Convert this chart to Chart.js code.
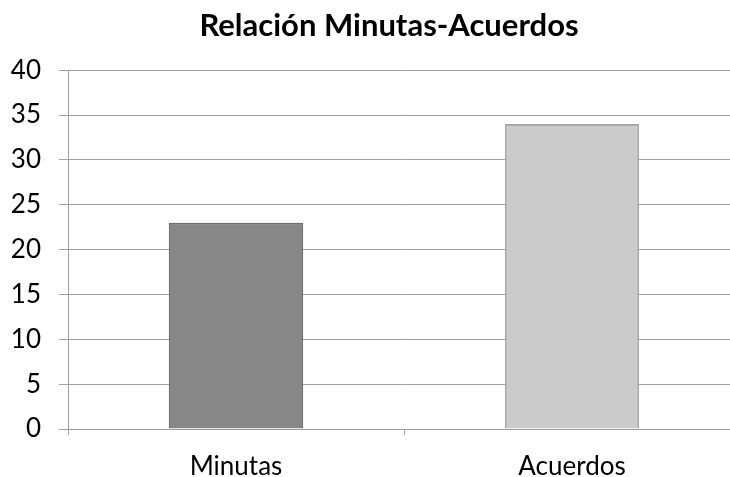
<!DOCTYPE html>
<html><head><meta charset="utf-8">
<script src="https://cdn.jsdelivr.net/npm/chart.js@4"></script>
<style>html,body{margin:0;padding:0;overflow:hidden;background:#fff}#wrap{width:745px;height:477px;position:relative}</style>
</head><body><div id="wrap"><canvas id="c"></canvas></div>
<script>
const categories = ["Minutas", "Acuerdos"];
const values = [23, 34];
const barColors = ["#878787", "#cbcbcb"];
const borderColors = ["#6f6f6f", "#a9a9a9"];
const yTicks = [0, 5, 10, 15, 20, 25, 30, 35, 40];
const TITLE = 'Relación Minutas-Acuerdos';
const FONT = "Lato, 'Open Sans', sans-serif";
const titleShift = {
  id: 'titleShift',
  afterDraw(chart) {
    const ctx = chart.ctx;
    ctx.save();
    ctx.font = "bold 31px " + FONT;
    ctx.fillStyle = '#000';
    ctx.textAlign = 'center';
    ctx.textBaseline = 'middle';
    ctx.fillText(TITLE, 389, 26);
    ctx.restore();
  }
};
new Chart(document.getElementById('c'), {
  type: 'bar',
  data: { labels: categories, datasets: [{ data: values, backgroundColor: barColors, borderColor: borderColors, borderWidth: 2, barPercentage: 0.4, categoryPercentage: 1 }] },
  options: {
    responsive: true, maintainAspectRatio: false, animation: false,
    layout: { padding: { top: 0, left: 0, right: 5, bottom: 0 } },
    plugins: {
      legend: { display: false }, tooltip: { enabled: false },
      title: { display: true, text: TITLE, color: 'rgba(0,0,0,0)', font: { family: FONT, size: 31, weight: 'bold', lineHeight: 1.2 }, padding: { top: 7, bottom: 26 } }
    },
    scales: {
      x: {
        grid: { drawOnChartArea: false, drawTicks: true, tickLength: 6, color: '#a0a0a0' },
        border: { display: true, color: '#a0a0a0' },
        ticks: { color: '#000', font: { family: FONT, size: 26 }, padding: 16 },
        afterFit(s) { s.height = 48; }
      },
      y: {
        min: 0, max: 40,
        afterBuildTicks(s) { s.ticks = yTicks.map(v => ({ value: v })); },
        grid: { color: '#a0a0a0', tickLength: 9 },
        border: { display: true, color: '#a0a0a0' },
        ticks: { color: '#000', font: { family: FONT, size: 26 }, padding: 18 },
        afterFit(s) { s.width = 68; }
      }
    }
  },
  plugins: [titleShift]
});
</script></body></html>
